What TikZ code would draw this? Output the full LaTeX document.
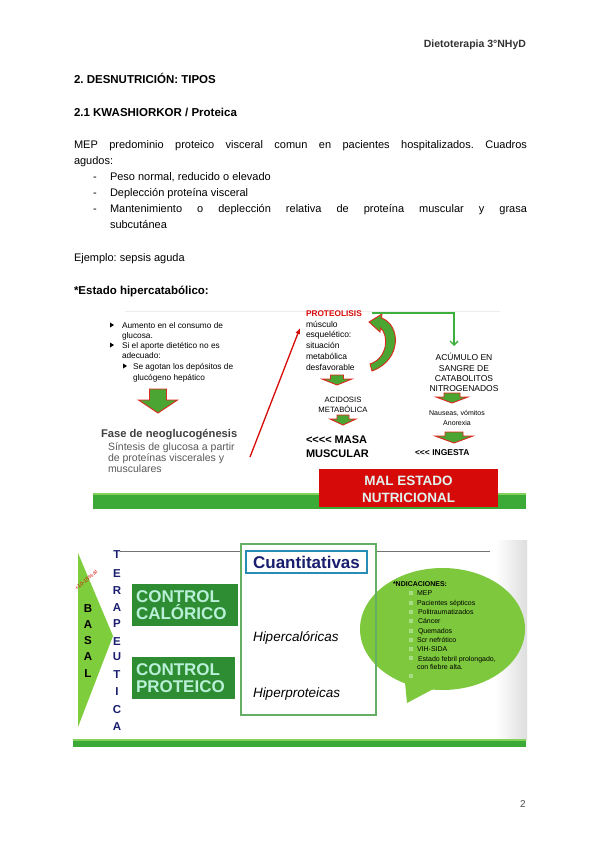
\documentclass[tikz,border=0pt]{standalone}
\usepackage{fontspec}
\setmainfont{Liberation Sans}
\usetikzlibrary{arrows.meta}
\definecolor{gdark}{RGB}{46,140,50}
\definecolor{gbar}{RGB}{60,170,55}
\definecolor{gbarlt}{RGB}{130,210,90}
\definecolor{glight}{RGB}{125,200,60}
\definecolor{tri}{RGB}{125,205,60}
\definecolor{mint}{RGB}{185,240,215}
\definecolor{navy}{RGB}{25,30,110}
\definecolor{rd}{RGB}{215,10,10}
\definecolor{agreen}{RGB}{75,165,50}
\definecolor{aout}{RGB}{220,40,30}
\definecolor{cblue}{RGB}{40,140,180}
\definecolor{boxg}{RGB}{100,175,100}
\definecolor{elbow}{RGB}{60,175,60}
\definecolor{maltext}{RGB}{225,243,238}
\newcommand{\fs}[2]{\fontsize{#1}{#2}\selectfont}
\newcommand{\gdownarrow}[6]{%
  \filldraw[garrowsty] ({#1-#3/2},{#2}) -- ({#1+#3/2},{#2}) -- ({#1+#3/2},{#2+#4})
   -- ({#1+#5/2},{#2+#4}) -- ({#1},{#2+#4+#6}) -- ({#1-#5/2},{#2+#4})
   -- ({#1-#3/2},{#2+#4}) -- cycle;}
\frenchspacing
\begin{document}
\begin{tikzpicture}[x=1pt,y=-1pt,
  every node/.style={inner sep=0pt, outer sep=0pt},
  txt/.style={anchor=base west, font=\fs{11}{13}},
  btxt/.style={anchor=base west, font=\bfseries\fs{11.5}{13}},
  stxt/.style={anchor=base west, font=\fs{8.3}{10}},
  ptxt/.style={anchor=base west, font=\fs{8.5}{10}},
  ctxt/.style={anchor=base, font=\fs{8.5}{10}},
  bubtxt/.style={anchor=base west, font=\fs{7}{8}},
  garrowsty/.style={fill=agreen, draw=aout, line width=0.9pt, line join=miter},
  vlet/.style={anchor=base, font=\bfseries\fs{11.5}{12}},
  cbox/.style={fill=gdark, anchor=north west, text=mint, font=\bfseries\fs{17}{17},
     align=left, inner xsep=4pt, minimum height=42pt},
  itl/.style={anchor=base west, font=\itshape\fs{13.5}{15}},
  bsq/.style={draw=gbarlt!70!white, fill=glight!70!white, line width=0.4pt}
  ]
\useasboundingbox (0,0) rectangle (600,848);
\fill[white] (0,0) rectangle (600,848);

% ---------- text part ----------
\node[anchor=base east, font=\bfseries\fs{10.5}{12}, text=black!80] (hdr) at (526,48) {Dietoterapia 3°NHyD};
\node[btxt] (h1) at (74,84) {2. DESNUTRICIÓN: TIPOS};
\node[btxt] (h2) at (74,117) {2.1 KWASHIORKOR / Proteica};
\node[txt] (p1) at (74,148) {\makebox[453pt][s]{MEP predominio proteico visceral comun en pacientes hospitalizados. Cuadros}};
\node[txt] (p2) at (74,164) {agudos:};
\node[txt] (d1) at (93,180) {-};
\node[txt] (l1) at (110,180) {Peso normal, reducido o elevado};
\node[txt] (d2) at (93,196) {-};
\node[txt] (l2) at (110,196) {Deplección proteína visceral};
\node[txt] (d3) at (93,212) {-};
\node[txt] (l3) at (110,212) {\makebox[417pt][s]{Mantenimiento o deplección relativa de proteína muscular y grasa}};
\node[txt] (l3b) at (110,228) {subcutánea};
\node[txt] (ej) at (74,261) {Ejemplo: sepsis aguda};
\node[btxt] (eh) at (74,294) {*Estado hipercatabólico:};

% ---------- upper diagram ----------
\draw[black!7, line width=0.6pt] (125,311) -- (500,311);
\fill (110,322.5) -- (110,327.5) -- (114,325) -- cycle;
\fill (110,342.5) -- (110,347.5) -- (114,345) -- cycle;
\fill (123,363.5) -- (123,368.5) -- (127,366) -- cycle;
\node[stxt] (b1a) at (122,328) {Aumento en el consumo de};
\node[stxt] (b1b) at (122,338) {glucosa.};
\node[stxt] (b2a) at (122,348) {Si el aporte dietético no es};
\node[stxt] (b2b) at (122,358) {adecuado:};
\node[stxt] (b3a) at (133,369) {Se agotan los depósitos de};
\node[stxt] (b3b) at (133,380) {glucógeno hepático};
\gdownarrow{158}{389}{17}{11}{39}{13}
\node[anchor=base west, font=\bfseries\fs{11.2}{12}, text=black!75] (fase) at (101,437) {Fase de neoglucogénesis};
\node[anchor=base west, font=\fs{10.5}{11}, text=black!65] (s1) at (108,450) {Síntesis de glucosa a partir};
\node[anchor=base west, font=\fs{10.5}{11}, text=black!65] (s2) at (108,461) {de proteínas viscerales y};
\node[anchor=base west, font=\fs{10.5}{11}, text=black!65] (s3) at (108,472) {musculares};

\coordinate (ra) at (250,457);
\coordinate (rb) at (300,328);
\draw[rd, line width=1.3pt, -{Latex[length=6pt,width=5pt]}] (ra) -- (rb);

\node[anchor=base west, font=\bfseries\fs{8.3}{10}, text=rd] (prot) at (306,316) {PROTEOLISIS};
\node[ptxt] (m1) at (306,327) {músculo};
\node[ptxt] (m2) at (306,337.5) {esquelético:};
\node[ptxt] (m3) at (306,348) {situación};
\node[ptxt] (m4) at (306,359) {metabólica};
\node[ptxt] (m5) at (306,370) {desfavorable};

\filldraw[garrowsty] (369,322) -- (382,314) -- (381.5,318) .. controls (401,325) and (402,360) .. (372,371)
  -- (370,364) .. controls (388,358) and (389,335) .. (380.5,328) -- (380,332) -- cycle;

\coordinate (gend) at (454,346);
\draw[elbow, line width=1.3pt, -{Straight Barb[length=4pt,width=8pt]}] ([xshift=10pt]prot.east) -| (gend);

\gdownarrow{337}{375}{13}{4}{30}{6}
\node[anchor=base, font=\fs{7.7}{9}] (ac1) at (343,402) {ACIDOSIS};
\node[anchor=base, font=\fs{7.7}{9}] (ac2) at (343,412) {METABÓLICA};
\gdownarrow{343}{415}{12}{4}{26}{6}
\node[anchor=base west, font=\bfseries\fs{11}{13}] (masa1) at (306,443) {<\kern0pt<\kern0pt<\kern0pt< MASA};
\node[anchor=base west, font=\bfseries\fs{11}{13}] (masa2) at (306,457) {MUSCULAR};

\node[ctxt] (a1) at (464,360) {ACÚMULO EN};
\node[ctxt] (a2) at (464,371) {SANGRE DE};
\node[ctxt] (a3) at (464,381) {CATABOLITOS};
\node[ctxt] (a4) at (464,391) {NITROGENADOS};
\gdownarrow{452}{393}{16}{4}{32}{6}
\node[anchor=base, font=\fs{7}{8}] (n1) at (457,415) {Nauseas, vómitos};
\node[anchor=base, font=\fs{7}{8}] (n2) at (457,425) {Anorexia};
\gdownarrow{454}{432}{18}{4}{38}{7}
\node[anchor=base west, font=\bfseries\fs{8.5}{10}] (ing) at (415,455) {<\kern0pt<\kern0pt< INGESTA};

\fill[gbar] (93,493) rectangle (526,509);
\fill[gbarlt] (93,493) rectangle (526,495);
\node[fill=rd, minimum width=179pt, minimum height=38pt, anchor=north west] (mal) at (319,469) {};
\node[anchor=base, font=\bfseries\fs{13.5}{15}, text=maltext] (mal1) at (408.5,485) {MAL ESTADO};
\node[anchor=base, font=\bfseries\fs{13.5}{15}, text=maltext] (mal2) at (408.5,502) {NUTRICIONAL};

% ---------- lower diagram ----------
\shade[left color=white, right color=black!13] (495,540) rectangle (527,740);
\draw[black!55, line width=0.7pt] (120,551) -- (490,551);
\fill[white] (241,544) rectangle (376,715);
\fill[tri] (78,553) -- (113,636) -- (78,727) -- cycle;
\node[rotate=40, font=\fs{5.5}{6}, text=rd] (pct) at (86,580) {+10-15\%\,al};
\node[vlet] (B1) at (88,612) {B};
\node[vlet] (B2) at (88,628) {A};
\node[vlet] (B3) at (88,644) {S};
\node[vlet] (B4) at (88,660) {A};
\node[vlet] (B5) at (88,677) {L};
\begin{scope}[every node/.style={vlet, text=navy, inner sep=0pt}]
\node (T1) at (117,558) {T};
\node (T2) at (117,577) {E};
\node (T3) at (117,594) {R};
\node (T4) at (117,611) {A};
\node (T5) at (117,627) {P};
\node (T6) at (117,645) {E};
\node (T7) at (117,660) {U};
\node (T8) at (117,678) {T};
\node (T9) at (117,695) {I};
\node (T10) at (117,713) {C};
\node (T11) at (117,730) {A};
\end{scope}
\node[cbox, minimum width=106pt, text width=98pt] (cc) at (132,584) {CONTROL\\CALÓRICO};
\node[cbox, minimum width=103pt, text width=95pt] (cp) at (132,657) {CONTROL\\PROTEICO};

% bubble
\fill[glight] (442.5,629) ellipse [x radius=82.5, y radius=61];
\fill[glight] (404,672) -- (407,703) -- (437,687) -- cycle;
\draw[boxg, line width=1.3pt] (241,544) rectangle (376,715);
\node[draw=cblue, line width=1.2pt, fill=white, minimum width=121pt, minimum height=22pt,
  font=\bfseries\fs{17}{18}, text=navy] (cuan) at (306.5,562) {Cuantitativas};
\node[itl] (hc) at (253,641) {Hipercalóricas};
\node[itl] (hp) at (253,697) {Hiperproteicas};

\node[anchor=base west, font=\bfseries\fs{7}{8}] (ind) at (393,586) {*NDICACIONES:};
\foreach \yy in {593,603,612,621,631,640,649,658,676} {\draw[bsq] (409.5,{\yy-1.5}) rectangle ++(3,3);}
\node[bubtxt] (i1) at (417,595.5) {MEP};
\node[bubtxt] (i2) at (417,605.5) {Pacientes sépticos};
\node[bubtxt] (i3) at (418,614.5) {Politraumatizados};
\node[bubtxt] (i4) at (418,623.5) {Cáncer};
\node[bubtxt] (i5) at (418,633.5) {Quemados};
\node[bubtxt] (i6) at (417,642.5) {Scr nefrótico};
\node[bubtxt] (i7) at (417,651.5) {VIH-SIDA};
\node[bubtxt] (i8) at (418,661) {Estado febril prolongado,};
\node[bubtxt] (i9) at (417,669.5) {con fiebre alta.};

\fill[gbar] (73,739) rectangle (526,747);
\fill[gbarlt] (73,739) rectangle (526,741);

\node[anchor=base, font=\fs{10}{12}, text=black!70] (pg) at (523,807) {2};
\end{tikzpicture}
\end{document}
